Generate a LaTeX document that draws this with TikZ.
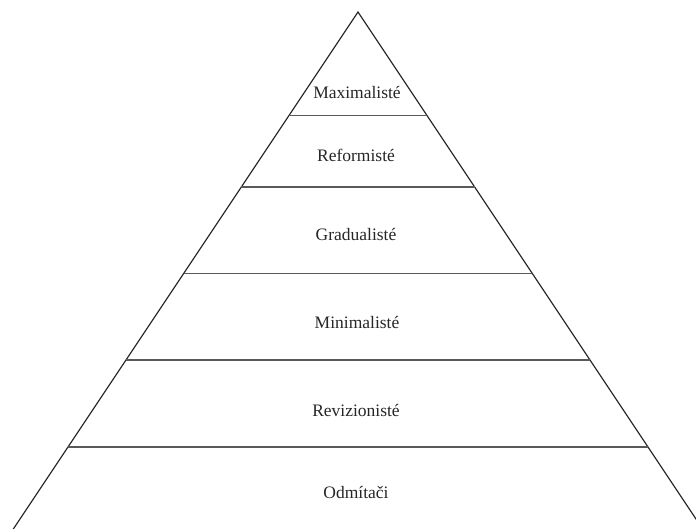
\documentclass[tikz,border=0pt]{standalone}
\usepackage{fontspec}
\setmainfont{Liberation Serif}
\usetikzlibrary{calc}
\begin{document}
\begin{tikzpicture}[x=1pt,y=-1pt,
  side/.style={draw=black!85,line width=1.2pt},
  tier/.style={draw=black!65,line width=1.4pt},
  lbl/.style={font=\fontsize{17.5}{20}\selectfont,text=black!85,inner sep=0pt}]
\useasboundingbox (0,0) rectangle (696,528);
\clip (0,0) rectangle (696,528);
\coordinate (apex) at (358,12);
\coordinate (bl) at (0,549);
\coordinate (br) at (716,549);
\draw[side] (bl) -- (apex) -- (br);
\foreach \y/\n in {115.5/a,187/b,273.5/c,360/d,447/e}{
  \pgfmathsetmacro{\dx}{(\y-12)*2/3}
  \coordinate (l\n) at ({358-\dx},\y);
  \coordinate (r\n) at ({358+\dx},\y);
  \draw[tier] (l\n) -- (r\n);
}
\node[lbl] (t1) at (357,92) {Maximalisté};
\node[lbl] (t2) at (356,155) {Reformisté};
\node[lbl] (t3) at (356,234) {Gradualisté};
\node[lbl] (t4) at (357,322) {Minimalisté};
\node[lbl] (t5) at (356,410) {Revizionisté};
\node[lbl] (t6) at (356,492) {Odmítači};
\end{tikzpicture}
\end{document}
